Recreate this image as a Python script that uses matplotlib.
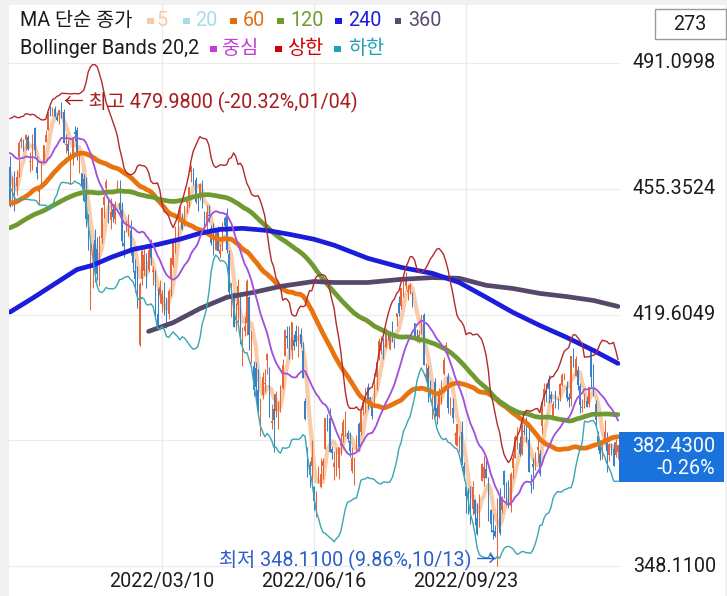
import numpy as np
import pandas as pd
import matplotlib
matplotlib.use('Agg')
import matplotlib.pyplot as plt
from matplotlib.patches import Rectangle
from matplotlib.transforms import blended_transform_factory as btf

plt.rcParams['font.family'] = ['Roboto', 'Noto Sans CJK KR', 'DejaVu Sans']

# ---------------- data ----------------
# closes before the visible window (2021-06-14 .. 2021-11-30), used for moving-average warm-up
warmup_close = [
    425.26, 424.48, 422.11, 421.97, 414.92, 420.86, 423.11, 422.60, 425.10, 426.61, 427.47, 427.70, 428.06,
    430.43, 433.72, 432.93, 434.46, 430.92, 435.52, 437.08, 435.59, 436.24, 434.75, 431.34, 424.97, 431.06,
    434.55, 435.46, 439.94, 441.02, 439.01, 438.83, 440.65, 438.51,
    437.59, 441.15, 438.98, 441.76, 442.49, 442.13, 442.68, 443.78, 445.11, 445.92, 446.97, 444.04, 439.18,
    439.86, 443.36, 447.26, 447.97, 448.91, 446.26, 450.25, 452.23, 451.56,
    451.80, 453.19, 453.08, 451.46, 450.91, 448.98, 445.44, 446.58, 444.17, 447.88, 447.17, 441.40, 434.04,
    433.63, 437.86, 443.18, 443.91, 442.64, 433.72, 434.45, 429.14,
    434.24, 428.64, 433.10, 434.90, 438.66, 437.86, 434.69, 433.62, 435.18, 442.50, 445.87, 447.19, 450.64,
    452.41, 453.59, 453.12, 455.55, 455.96, 453.94, 458.32, 459.25,
    460.04, 461.90, 464.72, 466.91, 468.53, 468.93, 467.38, 463.62, 463.77, 467.27, 467.43, 469.28, 468.14,
    469.73, 468.89, 467.57, 468.19, 469.44, 458.97, 464.60, 455.56,
]

open_ = [
    461.64, 450.73, 459.17, 456.13, 464.41, 468.70, 468.15, 469.23, 470.19, 463.09, 463.42, 472.57, 461.55, 454.48, 458.61, 462.79, 468.75, 472.06, 477.72, 476.98, 477.93, 475.64,
    476.30, 479.22, 477.16, 467.89, 467.95, 462.70, 465.23, 471.59, 472.19, 461.19, 459.74, 458.13, 453.75, 445.56, 432.03, 433.06, 440.72, 438.26, 432.68, 441.24,
    450.68, 455.50, 450.95, 446.35, 449.51, 446.73, 455.22, 451.34, 449.41, 439.92, 443.73, 443.93, 443.22, 437.33, 431.89, 432.66, 411.02, 429.61, 432.03,
    435.04, 432.37, 440.47, 431.75, 431.55, 419.62, 425.14, 422.52, 428.12, 420.89, 419.77, 429.89, 433.59, 438.00, 444.34, 445.86, 446.91, 445.94, 451.16, 452.06, 460.02, 460.34, 457.89,
    453.31, 453.13, 455.22, 446.89, 445.59, 447.97, 444.11, 443.08, 437.96, 443.55, 436.81, 437.86, 446.92, 448.54, 436.91, 423.67, 425.83, 417.24, 422.29, 423.59,
    412.07, 415.01, 417.08, 424.55, 411.10, 405.10, 404.49, 398.07, 389.37, 396.71, 399.98, 406.53, 403.50, 388.62, 392.83, 392.31, 392.56, 392.31, 398.67, 407.91, 413.55,
    415.17, 409.42, 412.40, 414.78, 408.10, 413.93, 409.34, 394.88, 379.85, 376.85, 376.51, 370.51, 365.51, 371.89, 370.62, 376.64, 381.40, 391.05, 390.23, 381.23, 376.24,
    376.56, 375.88, 382.11, 385.12, 387.27, 385.85, 383.65, 375.10, 373.61, 382.55, 388.38, 386.08, 392.47, 394.16, 398.92, 395.75, 393.84, 394.36, 401.89, 407.58,
    409.15, 409.12, 410.30, 414.37, 409.66, 415.25, 412.22, 418.78, 422.99, 422.03, 424.76, 427.73, 425.99, 426.86, 424.98, 417.05, 412.90, 412.11, 415.24, 419.39, 402.20, 404.33, 400.14,
    392.89, 400.28, 393.13, 390.37, 395.38, 402.74, 408.78, 401.83, 394.47, 392.96, 385.49, 382.26, 383.01, 386.11, 376.58, 370.58, 366.41, 367.76, 364.38, 366.79, 361.80,
    361.08, 372.40, 373.16, 375.62, 368.97, 363.96, 358.24, 358.17, 349.21, 368.55, 364.01, 375.13, 368.98, 368.03, 365.12, 375.89, 378.79, 381.62, 383.07, 379.87, 386.44,
    390.14, 383.90, 371.47, 377.00, 377.71, 381.11, 379.93, 388.05, 395.59, 396.66, 401.15, 396.78, 390.46, 397.74, 394.64, 396.63, 399.55, 401.83, 399.09, 396.05, 395.49,
    408.77, 402.25, 403.95, 399.42, 392.94, 395.14, 394.94, 394.11, 410.22, 401.61, 394.30, 385.18, 383.47, 379.23, 383.25, 383.05, 379.65, 382.79, 381.33, 379.63, 380.64,
]
high = [
    464.67, 459.07, 460.30, 460.79, 468.88, 470.00, 469.63, 470.90, 470.56, 465.74, 470.86, 472.87, 464.74, 455.40, 463.21, 467.81, 472.19, 477.31, 478.81, 478.56, 479.00, 476.86,
    477.85, 479.98, 477.98, 470.82, 469.20, 465.74, 469.85, 473.20, 472.88, 465.09, 459.96, 459.61, 458.74, 448.06, 440.38, 439.72, 444.04, 441.59, 442.00, 450.28,
    453.63, 458.12, 452.97, 452.78, 450.99, 451.92, 457.88, 457.71, 451.61, 443.50, 446.28, 448.06, 446.57, 438.66, 435.50, 433.26, 428.76, 437.84, 438.20,
    437.17, 439.72, 441.11, 433.37, 432.30, 427.21, 429.51, 426.43, 428.77, 424.55, 426.84, 435.68, 441.07, 444.86, 446.46, 450.58, 448.49, 450.50, 452.98, 455.91, 462.07, 461.20, 458.76,
    453.46, 456.91, 457.83, 448.93, 450.69, 450.63, 445.00, 445.75, 444.11, 444.73, 439.75, 445.80, 447.57, 450.01, 438.08, 428.69, 426.04, 422.92, 429.64, 425.87,
    415.92, 418.93, 429.66, 425.00, 414.80, 406.41, 406.08, 404.04, 395.80, 403.18, 403.97, 408.57, 404.80, 394.14, 397.03, 397.73, 395.15, 399.45, 407.04, 415.38, 416.46,
    416.24, 417.44, 414.04, 416.61, 416.22, 415.82, 411.74, 395.78, 381.81, 377.94, 383.90, 370.94, 369.38, 376.53, 378.72, 378.83, 390.09, 391.36, 393.16, 382.27, 380.66,
    381.70, 381.98, 385.87, 389.83, 392.21, 386.87, 386.16, 381.92, 379.05, 385.25, 389.09, 392.87, 396.26, 398.84, 400.18, 396.47, 394.06, 402.88, 406.80, 413.03,
    413.41, 413.00, 415.68, 415.09, 414.15, 417.62, 412.75, 419.99, 424.95, 427.21, 429.40, 431.73, 428.05, 428.61, 426.00, 417.05, 415.42, 415.11, 419.56, 420.13, 405.84, 405.17, 400.88,
    396.78, 401.56, 394.12, 398.59, 400.86, 407.51, 411.73, 403.10, 396.10, 395.96, 386.09, 388.55, 385.13, 389.31, 377.58, 370.62, 370.21, 370.74, 372.30, 367.11, 365.91,
    368.55, 377.49, 379.46, 378.72, 373.29, 364.21, 363.03, 359.82, 367.51, 370.26, 367.98, 375.45, 371.85, 372.67, 374.80, 380.06, 385.25, 387.58, 385.00, 389.52, 388.40,
    390.39, 388.63, 374.20, 378.87, 380.57, 385.12, 381.14, 395.04, 400.14, 400.18, 402.31, 397.78, 394.95, 397.81, 395.96, 400.07, 402.93, 403.05, 400.81, 397.30, 407.68,
    410.00, 407.86, 404.93, 399.99, 395.64, 397.36, 396.52, 399.00, 410.49, 405.50, 395.25, 386.58, 383.82, 383.40, 389.56, 386.21, 383.06, 383.15, 383.39, 384.35, 382.58,
]
low = [
    450.29, 450.31, 448.92, 453.56, 458.65, 466.83, 466.14, 466.51, 466.27, 460.25, 460.74, 464.80, 458.06, 451.14, 456.31, 462.58, 468.64, 472.01, 476.06, 475.92, 475.67, 474.67,
    473.85, 475.58, 468.28, 465.43, 464.65, 456.60, 462.05, 468.94, 463.44, 459.90, 455.31, 451.46, 444.50, 437.95, 420.76, 427.15, 428.86, 429.45, 427.82, 439.81,
    446.94, 453.05, 445.71, 443.83, 445.85, 445.22, 455.01, 447.20, 438.94, 436.04, 443.18, 441.94, 436.42, 431.82, 425.86, 421.35, 410.64, 427.86, 430.70,
    427.11, 431.57, 433.80, 427.88, 419.36, 415.12, 422.82, 420.44, 419.53, 415.79, 418.42, 424.80, 433.19, 437.22, 440.68, 445.86, 443.71, 444.76, 448.43, 450.06, 457.18, 456.47, 451.16,
    449.14, 452.26, 449.82, 443.47, 443.53, 445.94, 439.39, 436.65, 437.84, 437.68, 435.61, 437.68, 443.48, 437.10, 425.44, 418.84, 416.07, 415.01, 417.60, 411.21,
    405.02, 413.36, 413.71, 409.44, 405.73, 396.50, 394.82, 391.96, 385.15, 395.61, 397.60, 402.58, 390.55, 387.11, 380.54, 390.38, 386.96, 391.89, 398.45, 407.70, 410.03,
    406.93, 407.04, 409.51, 410.55, 407.61, 410.38, 401.44, 389.75, 373.30, 370.59, 372.12, 364.08, 362.17, 371.81, 370.18, 372.89, 381.37, 386.50, 380.53, 378.42, 372.56,
    373.80, 372.90, 379.60, 383.27, 385.09, 383.50, 378.99, 374.66, 371.04, 380.54, 380.66, 385.39, 391.03, 391.63, 392.75, 393.21, 389.95, 394.05, 398.15, 406.77,
    408.40, 406.82, 410.00, 412.44, 409.60, 411.83, 410.22, 416.42, 419.21, 421.03, 424.45, 426.88, 423.65, 425.50, 421.80, 412.44, 411.77, 411.39, 414.09, 405.25, 401.20, 394.71, 395.00,
    390.04, 390.33, 388.42, 390.20, 394.12, 402.46, 408.46, 391.60, 391.15, 388.78, 382.75, 382.18, 380.38, 376.80, 372.54, 363.29, 363.03, 360.06, 362.60, 359.70, 357.04,
    359.21, 372.26, 370.95, 373.00, 360.94, 357.67, 355.71, 356.30, 348.11, 356.96, 363.30, 367.52, 365.55, 364.61, 363.54, 373.11, 378.67, 381.35, 379.33, 379.68, 385.26,
    383.29, 374.76, 368.79, 370.00, 375.53, 377.72, 373.61, 385.64, 393.48, 394.83, 394.49, 394.79, 390.14, 393.04, 392.66, 395.15, 399.16, 401.10, 395.11, 393.30, 393.48,
    404.75, 402.14, 398.17, 391.64, 391.97, 393.00, 393.26, 393.39, 399.07, 396.31, 387.89, 381.04, 378.28, 378.43, 382.97, 374.77, 378.03, 379.65, 376.42, 379.08, 378.43,
]
close = [
    450.50, 457.40, 453.42, 458.79, 468.28, 469.52, 466.35, 470.74, 466.57, 463.36, 470.60, 466.45, 459.87, 454.98, 463.06, 467.69, 470.60, 477.26, 476.87, 477.48, 476.16, 474.96,
    477.71, 477.55, 468.38, 467.94, 466.09, 465.51, 469.75, 471.02, 464.53, 464.72, 456.49, 451.75, 446.75, 437.98, 439.84, 434.47, 433.38, 431.24, 441.95, 449.91,
    452.95, 457.35, 446.60, 448.70, 447.26, 450.94, 457.54, 449.32, 440.46, 439.02, 446.10, 446.60, 437.06, 434.23, 429.57, 421.95, 428.30, 437.75, 436.63,
    429.98, 437.89, 435.71, 432.17, 419.43, 416.25, 427.41, 425.48, 420.07, 417.00, 426.17, 435.62, 441.07, 444.52, 444.39, 449.59, 443.80, 450.49, 452.69, 455.91, 461.55, 458.70, 451.64,
    452.92, 456.80, 451.03, 446.52, 448.77, 447.57, 439.92, 438.29, 443.31, 437.79, 437.97, 445.04, 444.71, 438.06, 426.04, 428.51, 416.10, 417.27, 427.81, 412.00,
    414.48, 416.38, 429.06, 413.81, 411.34, 398.17, 399.09, 392.75, 392.34, 401.72, 400.09, 408.32, 391.86, 389.46, 389.63, 396.92, 393.89, 397.37, 405.31, 415.26, 412.93,
    409.59, 417.39, 410.54, 411.79, 415.74, 411.22, 401.44, 389.80, 375.00, 373.87, 379.20, 366.65, 365.86, 375.07, 374.39, 378.06, 390.08, 388.59, 380.65, 380.34, 377.25,
    381.24, 381.96, 383.25, 388.99, 388.67, 384.23, 380.83, 378.83, 377.91, 385.13, 381.95, 392.27, 394.77, 398.79, 395.09, 395.57, 390.89, 401.04, 406.07, 411.99,
    410.77, 408.06, 414.45, 414.17, 413.47, 412.99, 411.35, 419.99, 419.99, 427.10, 428.86, 429.70, 426.65, 427.89, 422.14, 413.35, 412.35, 413.67, 419.51, 405.31, 402.63, 398.21, 395.18,
    396.42, 392.24, 390.76, 397.78, 400.38, 406.60, 410.97, 393.10, 394.69, 390.12, 385.56, 388.55, 384.09, 377.39, 374.22, 367.95, 364.31, 363.38, 370.53, 362.79, 357.18,
    366.61, 377.09, 376.35, 373.20, 362.79, 360.02, 357.74, 356.56, 365.97, 357.63, 366.82, 371.13, 368.50, 365.41, 374.29, 378.87, 384.92, 382.02, 379.98, 389.02, 386.21,
    384.52, 374.87, 371.01, 376.35, 379.95, 382.00, 374.13, 394.69, 398.51, 395.12, 398.49, 395.45, 394.24, 396.03, 394.59, 399.90, 402.42, 402.33, 395.91, 395.23, 407.68,
    407.38, 406.91, 399.59, 393.83, 393.16, 396.24, 393.28, 398.95, 401.97, 399.40, 389.63, 383.27, 380.02, 380.54, 386.23, 380.72, 382.91, 381.40, 376.66, 383.44, 382.43,
]

# long moving averages (candle index, value)
ma240_idx = [0, 10, 19, 30, 37, 45, 55, 66, 76, 85, 94, 104, 115, 125, 136, 145, 160, 175, 189, 201, 213, 225, 237, 249, 261, 272]
ma240_val = [420.3, 424.2, 427.9, 432.4, 433.6, 435.8, 438.1, 439.5, 441.0, 442.7, 443.8, 444.1, 443.5, 442.4, 441.0,
             439.3, 435.6, 433.0, 431.3, 428.7, 424.5, 420.2, 416.5, 413.1, 409.4, 405.7]
ma360_idx = [62, 73, 85, 97, 109, 121, 136, 145, 160, 175, 189, 201, 213, 225, 237, 249, 261, 272]
ma360_val = [414.8, 417.3, 421.3, 424.5, 425.9, 427.6, 429.0, 428.7, 428.7, 429.6, 430.1, 429.9, 427.9, 427.0,
             425.6, 424.7, 423.6, 421.9]

holidays = ['2021-12-24', '2022-01-17', '2022-02-21', '2022-04-15', '2022-05-30', '2022-06-20',
            '2022-07-04', '2022-09-05', '2022-11-24', '2022-12-26']
tick_dates = ['2022-03-10', '2022-06-16', '2022-09-23']
tick_labels = ['2022/03/10', '2022/06/16', '2022/09/23']
grid_levels = [491.0998, 455.3524, 419.6049, 383.8575, 348.1100]
price_levels = [491.0998, 455.3524, 419.6049, 348.1100]
price_labels = ['491.0998', '455.3524', '419.6049', '348.1100']
bar_count = '273'
last_price = '382.4300'
last_change = '-0.26%'
max_note = '← 최고 479.9800 (-20.32%,01/04)'
min_note = '최저 348.1100 (9.86%,10/13) →'

# ---------------- indicators ----------------
n = len(close)
nw = len(warmup_close)
s = pd.Series(warmup_close + close)
ma5 = s.rolling(5).mean().values[nw:]
ma20 = s.rolling(20).mean().values[nw:]
ma60 = s.rolling(60).mean().values[nw:]
ma120 = s.rolling(120).mean().values[nw:]
sd20 = s.rolling(20).std(ddof=0).values[nw:]
bb_up = ma20 + 2 * sd20
bb_lo = ma20 - 2 * sd20

dates = pd.bdate_range('2021-12-01', '2022-12-30', freq='C', holidays=holidays)
tick_pos = [int(np.searchsorted(dates, pd.Timestamp(d))) for d in tick_dates]

o = np.array(open_); h = np.array(high); l = np.array(low); c = np.array(close)
x = np.arange(n)

FS = 14.2
TXT = '#1c1c1c'

# ---------------- figure ----------------
W, H = 727, 596
fig = plt.figure(figsize=(W / 100, H / 100), dpi=100)
fig.patch.set_facecolor('#f1f1f1')
fig.add_artist(Rectangle((9 / W, 0), (725 - 9) / W, (H - 5) / H, transform=fig.transFigure,
                         facecolor='white', edgecolor='none', zorder=-10))

ax_l, ax_r, ax_t, ax_b = 9, 620, 5, 570
ax = fig.add_axes([ax_l / W, 1 - ax_b / H, (ax_r - ax_l) / W, (ax_b - ax_t) / H])
ax.axis('off')
ppx = (grid_levels[0] - grid_levels[-1]) / (566 - 63)
ax.set_ylim(grid_levels[-1] - (ax_b - 566) * ppx, grid_levels[0] + (63 - ax_t) * ppx)
ax.set_xlim(-0.45, n - 0.1)

grid_c = '#ebebeb'
for p in grid_levels:
    ax.axhline(p, color=grid_c, lw=0.9, zorder=0)
for tp in tick_pos:
    ax.axvline(tp, color=grid_c, lw=0.9, zorder=0)

# MA5 underneath candles
ax.plot(x, ma5, color='#f9cba8', lw=3.0, zorder=1, solid_capstyle='round')

up = c >= o
cols = np.where(up, '#e8653a', '#3a80c8')
ax.vlines(x, l, h, colors=cols, lw=0.75, zorder=2)
body = np.maximum(np.abs(c - o), 0.25)
ax.bar(x, body, bottom=np.minimum(o, c), width=0.65, color=cols, linewidth=0, zorder=2)

ax.plot(x, ma20, color='#a8dbe8', lw=1.0, zorder=3)
ax.plot(x, ma60, color='#e8730f', lw=3.4, zorder=4, solid_capstyle='round')
ax.plot(x, ma120, color='#6f9a31', lw=3.4, zorder=4, solid_capstyle='round')
ax.plot(ma360_idx, ma360_val, color='#55486b', lw=3.4, zorder=4, solid_capstyle='round')
ax.plot(ma240_idx, ma240_val, color='#1c1cdc', lw=3.4, zorder=5, solid_capstyle='round')
ax.plot(x, bb_lo, color='#3aa6b2', lw=1.0, zorder=6)
ax.plot(x, bb_up, color='#b32a2a', lw=1.0, zorder=6)
ax.plot(x, ma20, color='#a651de', lw=1.3, zorder=6)

# annotations
imax = int(np.argmax(h)); imin = int(np.argmin(l))
ax.annotate(max_note, xy=(imax, h[imax]), xytext=(3, 0), textcoords='offset pixels',
            ha='left', va='center', fontsize=FS, color='#a81c1c', zorder=8)
ax.annotate(min_note, xy=(imin, l[imin]), xytext=(-1, 6), textcoords='offset pixels',
            ha='right', va='center', fontsize=FS, color='#2c5fc9', zorder=8)

# right price labels
tr = btf(fig.transFigure, ax.transData)
for p, lab in zip(price_levels, price_labels):
    fig.text(716 / W, p, lab, transform=tr, ha='right', va='center', fontsize=FS, color=TXT)

# last price box
fig.add_artist(Rectangle((619 / W, 1 - 482 / H), (724 - 619) / W, 50 / H, transform=fig.transFigure,
                         facecolor='#1a73dc', edgecolor='none', zorder=9))
fig.text(715 / W, 1 - 447 / H, last_price, ha='right', va='center', fontsize=FS, color='white', zorder=10)
fig.text(715 / W, 1 - 468 / H, last_change, ha='right', va='center', fontsize=FS, color='white', zorder=10)

# count box
fig.add_artist(Rectangle((655 / W, 1 - 39 / H), (726 - 655) / W, 30 / H, transform=fig.transFigure,
                         facecolor='white', edgecolor='#9a9a9a', lw=1.0, zorder=9))
fig.text(690 / W, 1 - 25 / H, bar_count, ha='center', va='center', fontsize=FS, color=TXT, zorder=10)

# date labels
trx = btf(ax.transData, fig.transFigure)
for tp, lab in zip(tick_pos, tick_labels):
    fig.text(tp, 1 - 581 / H, lab, transform=trx, ha='center', va='center', fontsize=FS, color=TXT)

# legend
def ftext(xp, yp, s, col):
    fig.text(xp / W, 1 - yp / H, s, ha='left', va='center', fontsize=FS, color=col, zorder=10)

def fsq(xp, yp, col, sz=6.5):
    fig.add_artist(Rectangle((xp / W, 1 - (yp + sz / 2) / H), sz / W, sz / H, transform=fig.transFigure,
                             facecolor=col, edgecolor='none', zorder=10))

y1, y2 = 21, 49
ftext(20, y1, 'MA 단순 종가', TXT)
leg1 = [(147, 157, '5', '#f7c9a5'), (183, 195, '20', '#a8dbe8'), (230, 243, '60', '#e0700f'),
        (277, 290, '120', '#6f9a31'), (335, 348, '240', '#1c1cdc'), (395, 408, '360', '#5a4a72')]
for sqx, tx, lab, col in leg1:
    fsq(sqx, y1, col)
    ftext(tx, y1, lab, col)
ftext(20, y2, 'Bollinger Bands 20,2', TXT)
leg2 = [(210, 222, '중심', '#c23cd8'), (275, 287, '상한', '#d00000'), (334, 348, '하한', '#22a2b2')]
for sqx, tx, lab, col in leg2:
    fsq(sqx, y2, col)
    ftext(tx, y2, lab, col)

fig.savefig('out.png', dpi=100, facecolor=fig.get_facecolor())
